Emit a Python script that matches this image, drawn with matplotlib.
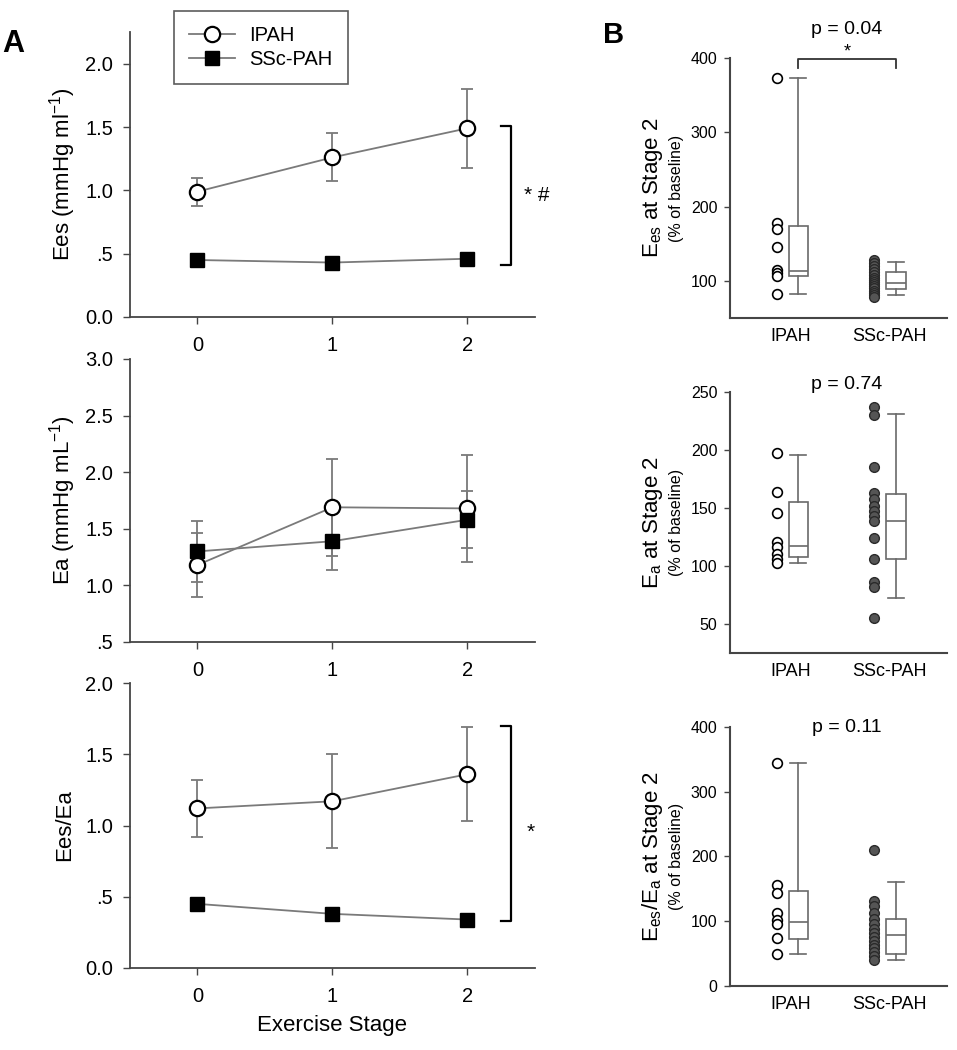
import numpy as np
import matplotlib.pyplot as plt
from matplotlib.lines import Line2D

plt.rcParams['font.family'] = ['Liberation Sans', 'DejaVu Sans']
plt.rcParams['mathtext.default'] = 'regular'

# ---------------- Panel A data (mean +/- error) ----------------
stages = [0, 1, 2]

ees_ipah = [0.99, 1.26, 1.49]
ees_ipah_err = [0.11, 0.19, 0.31]
ees_ssc = [0.45, 0.43, 0.46]
ees_ssc_err = [0.03, 0.03, 0.03]

ea_ipah = [1.18, 1.69, 1.68]
ea_ipah_err = [0.28, 0.43, 0.47]
ea_ssc = [1.30, 1.39, 1.58]
ea_ssc_err = [0.27, 0.25, 0.25]

ratio_ipah = [1.12, 1.17, 1.36]
ratio_ipah_err = [0.20, 0.33, 0.33]
ratio_ssc = [0.45, 0.38, 0.34]
ratio_ssc_err = [0.03, 0.03, 0.03]

ees_yticks = [0, 0.5, 1.0, 1.5, 2.0]
ees_yticklabels = ['0.0', '.5', '1.0', '1.5', '2.0']
ea_yticks = [0.5, 1.0, 1.5, 2.0, 2.5, 3.0]
ea_yticklabels = ['.5', '1.0', '1.5', '2.0', '2.5', '3.0']

# ---------------- Panel B data (% of baseline at stage 2) ----------------
groups = ['IPAH', 'SSc-PAH']

ees_pct_ipah = [373, 178, 170, 146, 115, 110, 106, 82]
ees_pct_ssc = [128, 124, 120, 116, 112, 108, 104, 101, 98, 96, 93, 90, 87, 84, 81, 78]
ees_box = [dict(whislo=82, q1=106, med=114, q3=174, whishi=373),
           dict(whislo=81, q1=89, med=97, q3=112, whishi=125)]

ea_pct_ipah = [197, 164, 146, 121, 116, 110, 106, 103]
ea_pct_ssc = [237, 230, 185, 163, 158, 152, 147, 143, 139, 124, 106, 86, 82, 55]
ea_box = [dict(whislo=103, q1=108, med=117, q3=155, whishi=196),
          dict(whislo=72, q1=106, med=139, q3=162, whishi=231)]

ratio_pct_ipah = [345, 156, 143, 112, 102, 95, 74, 50]
ratio_pct_ssc = [210, 131, 124, 112, 104, 96, 88, 82, 76, 70, 64, 58, 52, 46, 40]
ratio_box = [dict(whislo=49, q1=72, med=99, q3=147, whishi=345),
             dict(whislo=40, q1=49, med=78, q3=104, whishi=161)]

p_texts = ['p = 0.04', 'p = 0.74', 'p = 0.11']

# ---------------- figure ----------------
fig = plt.figure(figsize=(9.57, 10.5), dpi=100)

grey = '#7a7a7a'
spine_c = '#454545'

axA = [fig.add_axes([0.1358, 0.6981, 0.4232, 0.2714]),
       fig.add_axes([0.1358, 0.3886, 0.4232, 0.2695]),
       fig.add_axes([0.1358, 0.0781, 0.4232, 0.2714])]
axB = [fig.add_axes([0.7628, 0.6971, 0.2268, 0.2476]),
       fig.add_axes([0.7628, 0.3781, 0.2268, 0.2486]),
       fig.add_axes([0.7628, 0.0610, 0.2268, 0.2467])]


def style(ax):
    for s in ['top', 'right']:
        ax.spines[s].set_visible(False)
    for s in ['left', 'bottom']:
        ax.spines[s].set_color(spine_c)
        ax.spines[s].set_linewidth(1.3)
    ax.tick_params(direction='out', color=spine_c, width=1.0)


def panel_a(ax, ipah, ipah_err, ssc, ssc_err, ylim, yticks, yticklabels, ylabel):
    style(ax)
    ax.errorbar(stages, ipah, yerr=ipah_err, fmt='none', ecolor=grey,
                elinewidth=1.3, capsize=4, capthick=1.3, zorder=2)
    ax.errorbar(stages, ssc, yerr=ssc_err, fmt='none', ecolor=grey,
                elinewidth=1.3, capsize=4, capthick=1.3, zorder=2)
    ax.plot(stages, ipah, color=grey, lw=1.3, marker='o', ms=11,
            mfc='white', mec='black', mew=1.6, zorder=3)
    ax.plot(stages, ssc, color=grey, lw=1.3, marker='s', ms=10,
            mfc='black', mec='black', zorder=4)
    ax.set_xlim(-0.5, 2.5)
    ax.set_ylim(*ylim)
    ax.set_xticks(stages)
    ax.set_yticks(yticks)
    ax.set_yticklabels(yticklabels)
    ax.tick_params(axis='both', labelsize=14.5, length=5)
    ax.tick_params(axis='x', pad=9)
    ax.tick_params(axis='y', pad=7)
    ax.set_ylabel(ylabel, fontsize=16)
    ax.yaxis.set_label_coords(-0.128, 0.5)


panel_a(axA[0], ees_ipah, ees_ipah_err, ees_ssc, ees_ssc_err, (0, 2.25),
        ees_yticks, ees_yticklabels, 'Ees (mmHg ml$^{-1}$)')
panel_a(axA[1], ea_ipah, ea_ipah_err, ea_ssc, ea_ssc_err, (0.5, 3.0),
        ea_yticks, ea_yticklabels, 'Ea (mmHg mL$^{-1}$)')
panel_a(axA[2], ratio_ipah, ratio_ipah_err, ratio_ssc, ratio_ssc_err, (0, 2.0),
        ees_yticks, ees_yticklabels, 'Ees/Ea')
axA[2].yaxis.set_label_coords(-0.135, 0.5)
axA[2].set_xlabel('Exercise Stage', fontsize=16)
axA[2].xaxis.set_label_coords(0.5, -0.165)

# significance brackets in A
axA[0].plot([2.25, 2.32, 2.32, 2.25], [1.51, 1.51, 0.41, 0.41], color='black',
            lw=1.6, clip_on=False)
axA[0].text(2.51, 0.96, '* #', fontsize=15, ha='center', va='center', clip_on=False)
axA[2].plot([2.25, 2.32, 2.32, 2.25], [1.70, 1.70, 0.33, 0.33], color='black',
            lw=1.6, clip_on=False)
axA[2].text(2.47, 0.95, '*', fontsize=15, ha='center', va='center', clip_on=False)

# legend
handles = [Line2D([], [], color=grey, lw=1.3, marker='o', ms=11, mfc='white',
                  mec='black', mew=1.6),
           Line2D([], [], color=grey, lw=1.3, marker='s', ms=10, mfc='black',
                  mec='black')]
leg = fig.legend(handles, ['IPAH', 'SSc-PAH'], loc='upper left',
                 bbox_to_anchor=(0.1818, 0.9895), borderaxespad=0,
                 fontsize=14.5, fancybox=False, frameon=True, handlelength=2.3,
                 handletextpad=0.7, labelspacing=0.25, borderpad=0.75)
leg.get_frame().set_edgecolor('#333333')
leg.get_frame().set_linewidth(1.2)


# ---------------- Panel B ----------------
def panel_b(ax, pts_ipah, pts_ssc, box, ylim, yticks, ylabel_main, ptext, ptext_y):
    style(ax)
    ax.spines['left'].set_linewidth(1.5)
    ax.spines['bottom'].set_linewidth(1.5)
    ax.plot([1 - 0.14] * len(pts_ipah), pts_ipah, 'o', ms=7, mfc='white',
            mec='black', mew=1.2, zorder=3)
    ax.plot([2 - 0.15] * len(pts_ssc), pts_ssc, 'o', ms=7, mfc='#555555',
            mec='#2a2a2a', mew=1.0, zorder=3)
    ax.bxp(box, positions=[1.075, 2.07], widths=0.2, showfliers=False,
           patch_artist=True, capwidths=0.16,
           boxprops=dict(facecolor='white', edgecolor='#6a6a6a', linewidth=1.2),
           medianprops=dict(color='#6a6a6a', linewidth=1.2),
           whiskerprops=dict(color='#6a6a6a', linewidth=1.2),
           capprops=dict(color='#6a6a6a', linewidth=1.2), manage_ticks=False)
    ax.set_xlim(0.378, 2.592)
    ax.set_ylim(*ylim)
    ax.set_xticks([1, 2])
    ax.set_xticklabels(groups)
    ax.set_yticks(yticks)
    ax.tick_params(axis='x', length=0, labelsize=13, pad=7)
    ax.tick_params(axis='y', length=4, labelsize=11.5, pad=5)
    ax.text(-0.355, 0.5, ylabel_main, transform=ax.transAxes, rotation=90,
            fontsize=16, ha='center', va='center')
    ax.text(-0.245, 0.5, '(% of baseline)', transform=ax.transAxes, rotation=90,
            fontsize=11.5, ha='center', va='center')
    ax.text(0.539, ptext_y, ptext, transform=ax.transAxes, fontsize=14,
            ha='center', va='center')


panel_b(axB[0], ees_pct_ipah, ees_pct_ssc, ees_box, (50, 400),
        [100, 200, 300, 400], 'E$_{es}$ at Stage 2', p_texts[0], 1.108)
panel_b(axB[1], ea_pct_ipah, ea_pct_ssc, ea_box, (25, 250),
        [50, 100, 150, 200, 250], 'E$_{a}$ at Stage 2', p_texts[1], 1.027)
panel_b(axB[2], ratio_pct_ipah, ratio_pct_ssc, ratio_box, (0, 400),
        [0, 100, 200, 300, 400], 'E$_{es}$/E$_{a}$ at Stage 2', p_texts[2], 0.996)

# significance bracket in B top
axB[0].plot([1.075, 1.075, 2.07, 2.07], [387, 399, 399, 387], color='#333333',
            lw=1.3, clip_on=False)
axB[0].text(0.539, 1.025, '*', transform=axB[0].transAxes, fontsize=13,
            ha='center', va='center')

# panel letters
fig.text(13 / 957, 1 - 44 / 1050, 'A', fontsize=22, fontweight='bold',
         ha='center', va='center')
fig.text(614 / 957, 1 - 35 / 1050, 'B', fontsize=21, fontweight='bold',
         ha='center', va='center')

fig.savefig('out.png', dpi=100, facecolor='white')
